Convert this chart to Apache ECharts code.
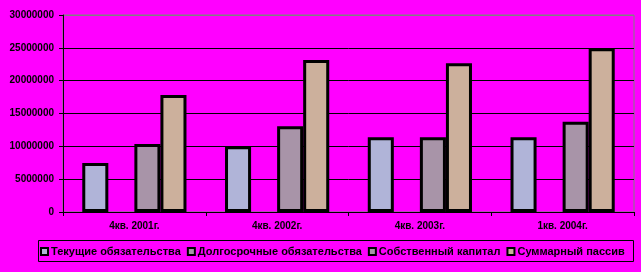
<!DOCTYPE html>
<html>
<head>
<meta charset="utf-8">
<script src="https://cdn.jsdelivr.net/npm/echarts@6/dist/echarts.min.js"></script>
<style>
html,body{margin:0;padding:0;background:#FF00FF;}
#c{width:641px;height:272px;}
</style>
</head>
<body>
<div id="c"></div>
<script>
var categories = ['4кв. 2001г.', '4кв. 2002г.', '4кв. 2003г.', '1кв. 2004г.'];
var seriesNames = ['Текущие обязательства', 'Долгосрочные обязательства', 'Собственный капитал', 'Суммарный пассив'];
var currentLiab = [7450000, 10000000, 11400000, 11400000];
var longTermLiab = [null, null, null, null];
var equity = [10350000, 13050000, 11400000, 13750000];
var totalLiab = [17800000, 23150000, 22650000, 24950000];
var yTicks = [0, 5000000, 10000000, 15000000, 20000000, 25000000, 30000000];

var colors = ['#B0B4D8', '#A894A8', '#A894A8', '#CCB09C'];
var font = '"Liberation Sans", Arial, sans-serif';
var dataSets = [currentLiab, longTermLiab, equity, totalLiab];

var chart = echarts.init(document.getElementById('c'), null, {renderer: 'canvas'});
var series = seriesNames.map(function (n, i) {
  return {
    name: n,
    type: 'bar',
    data: dataSets[i],
    barGap: '0%',
    barCategoryGap: '27%',
    itemStyle: {color: colors[i], borderColor: '#000', borderWidth: 3},
    emphasis: {disabled: true},
    animation: false
  };
});

chart.setOption({
  backgroundColor: '#FF00FF',
  animation: false,
  grid: {left: 63, top: 15, right: 7, bottom: 60, show: true, borderColor: '#808080', borderWidth: 1, backgroundColor: 'transparent'},
  legend: {
    data: seriesNames,
    left: 38,
    top: 241,
    padding: [5, 2, 5, 2],
    icon: 'rect',
    itemWidth: 7,
    itemHeight: 7,
    itemGap: 6,
    itemStyle: {borderColor: '#000', borderWidth: 2},
    textStyle: {fontFamily: font, fontWeight: 'bold', fontSize: 11, color: '#000', padding: [0, 0, 0, -2]}
  },
  graphic: [{
    type: 'rect',
    shape: {x: 38.5, y: 240.5, width: 595, height: 21},
    style: {fill: 'none', stroke: '#000', lineWidth: 1},
    silent: true
  }],
  xAxis: {
    type: 'category',
    data: categories,
    axisLine: {lineStyle: {color: '#000', width: 1}},
    axisTick: {show: true, length: 4, lineStyle: {color: '#000'}},
    axisLabel: {fontFamily: font, fontWeight: 'bold', fontSize: 10, color: '#000', margin: 9}
  },
  yAxis: {
    type: 'value',
    min: yTicks[0],
    max: yTicks[yTicks.length - 1],
    interval: yTicks[1] - yTicks[0],
    axisLine: {show: true, lineStyle: {color: '#000', width: 1}},
    axisTick: {show: true, length: 4, lineStyle: {color: '#000'}},
    axisLabel: {fontFamily: font, fontWeight: 'bold', fontSize: 10, color: '#000', margin: 9,
      formatter: function (v) { return String(v); }},
    splitLine: {show: true, lineStyle: {color: ['#000', '#000', '#000', '#000', '#000', '#000', '#808080'], width: 1}}
  },
  series: series
});
</script>
</body>
</html>
